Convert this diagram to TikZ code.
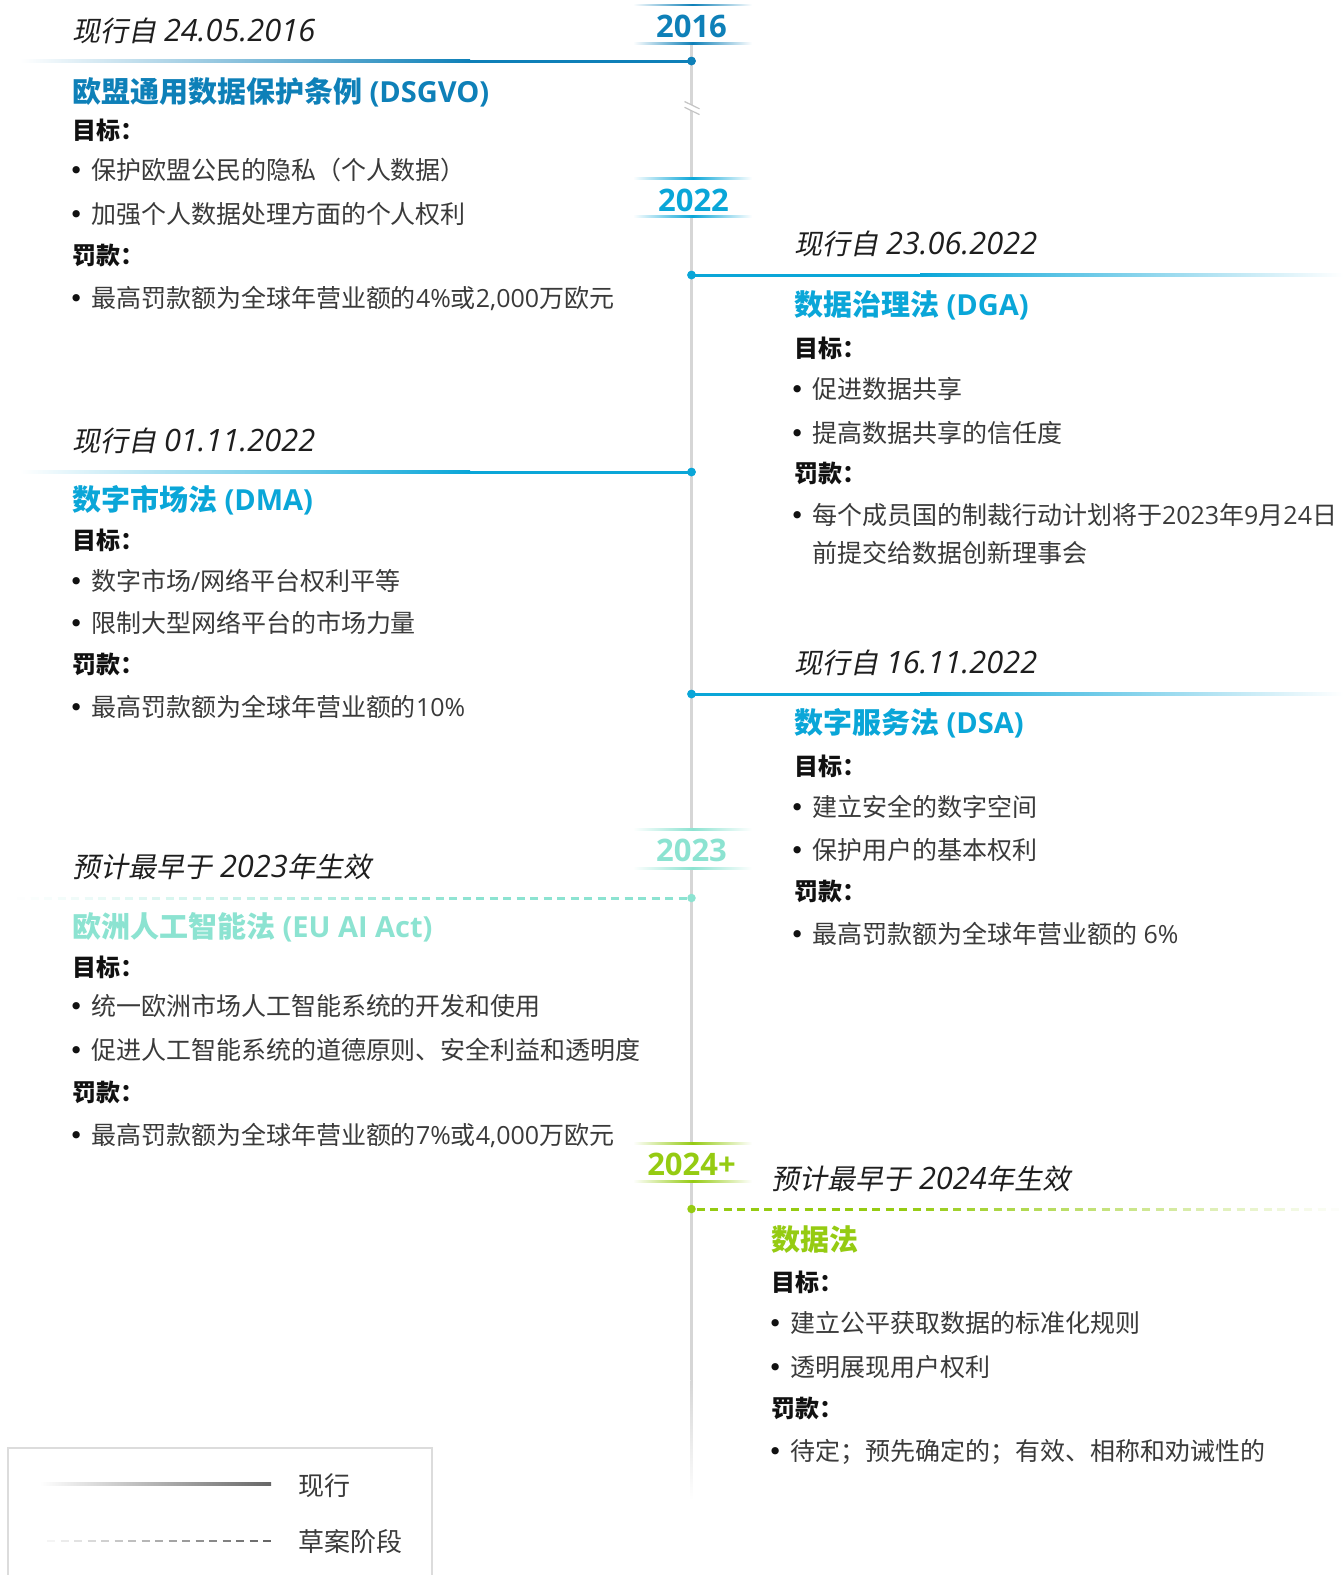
\documentclass[tikz,border=0pt]{standalone}
\usepackage{fontspec}
\setmainfont{Open Sans}[ItalicFeatures={Scale=1.1}]
\newfontfamily\cjkfam{Noto Sans CJK SC}[ItalicFont={Noto Sans CJK SC},ItalicFeatures={FakeSlant=0.2}]
\newfontfamily\bulfam{DejaVu Sans}
\XeTeXinterchartokenstate=1
\newXeTeXintercharclass\cjkcls
\newcount\cjkc
\def\cjkrange#1#2{\cjkc=#1\relax
  \loop\XeTeXcharclass\cjkc=\cjkcls\relax
  \ifnum\cjkc<#2\relax\advance\cjkc by 1\relax\repeat}
\cjkrange{"3000}{"303F}
\cjkrange{"4E00}{"9FFF}
\cjkrange{"FF00}{"FFEF}
\XeTeXinterchartoks 0 \cjkcls = {\cjkfam}
\XeTeXinterchartoks 4095 \cjkcls = {\cjkfam}
\XeTeXinterchartoks \cjkcls 0 = {\rmfamily}
\XeTeXinterchartoks \cjkcls 4095 = {\rmfamily}
\definecolor{cDS}{HTML}{0E80B8}
\definecolor{cBlue}{HTML}{0AA6D8}
\definecolor{cMint}{HTML}{8CE3D1}
\definecolor{cGreen}{HTML}{95CB12}
\definecolor{cVert}{HTML}{D6D6D6}
\definecolor{cBreak}{HTML}{C4C4C4}
\definecolor{cBody}{HTML}{3A3A3A}
\definecolor{cHead}{HTML}{111111}
\definecolor{cDate}{HTML}{1E1E1E}
\definecolor{cLeg}{HTML}{666666}
\definecolor{cLegBox}{HTML}{DCDCDC}
\newcommand\bul{\llap{{\bulfam\color{cHead}•}\hspace{7.5pt}}}
\begin{document}
\begin{tikzpicture}[x=1pt,y=-1pt,
  txt/.style={anchor=base west,inner sep=0pt,outer sep=0pt},
  datetxt/.style={txt,font=\fontsize{28}{30}\selectfont\itshape,text=cDate},
  titletxt/.style={txt,font=\fontsize{29}{32}\selectfont\bfseries},
  headtxt/.style={txt,font=\fontsize{24}{28}\selectfont\bfseries,text=cHead},
  bodytxt/.style={txt,font=\fontsize{25}{30}\selectfont,text=cBody},
  legtxt/.style={txt,font=\fontsize{26}{30}\selectfont,text=cBody},
  yeartxt/.style={anchor=base,inner sep=0pt,outer sep=0pt,font=\fontsize{31}{34}\selectfont\bfseries},
  tdot/.style={circle,inner sep=0pt,minimum size=8.5pt},
  hline/.style={line width=3pt},
  vline/.style={cVert,line width=2.5pt}]
\useasboundingbox (0,0) rectangle (1343,1575);
\fill[white] (0,0) rectangle (1343,1575);

% ---------- vertical timeline ----------
\coordinate (vTop) at (691.5,43.5);
\coordinate (vFade) at (691.5,1380);
\draw[vline] (vTop) -- (vFade);
\shade[top color=cVert,bottom color=white] (690.25,1380) rectangle (692.75,1500);
% break mark
\fill[white] (684,101) -- (700,109) -- (700,115) -- (684,107) -- cycle;
\draw[cBreak,line width=1.2pt] (684.5,101.5) -- (699.5,108.8);
\draw[cBreak,line width=1.2pt] (684.5,107.3) -- (699.5,114.6);

% ---------- year labels ----------
\foreach \yt/\yb/\col in {5/43.3/cDS, 178.3/216.7/cBlue, 829.3/868.3/cMint, 1143.3/1181.7/cGreen}{
  \fill[white] (636,\yt) rectangle (748,\yb);
  \shade[left color=white,right color=white,middle color=\col] (633,\yt-0.8) rectangle (752,\yt+0.8);
  \shade[left color=white,right color=white,middle color=\col] (633,\yb-0.8) rectangle (752,\yb+0.8);
}
\node[yeartxt,text=cDS] (y2016) at (691.5,37.3) {2016};
\node[yeartxt,text=cBlue] (y2022) at (693.5,211.7) {2022};
\node[yeartxt,text=cMint] (y2023) at (691.5,861.7) {2023};
\node[yeartxt,text=cGreen] (y2024) at (691.5,1175) {2024+};

% ---------- horizontal markers ----------
% DSGVO (left, solid)
\coordinate (dsM) at (470,61);
\shade[left color=white,right color=cDS] (20,59.5) rectangle (470,62.5);
\node[tdot,fill=cDS] (dsDot) at (691.5,61) {};
\draw[hline,cDS] (dsM) -- (dsDot.center);
\node[tdot,fill=cDS] at (dsDot) {};
% DGA (right, solid)
\coordinate (dgaM) at (920,275);
\shade[left color=cBlue,right color=white] (920,273.5) rectangle (1343,276.5);
\node[tdot,fill=cBlue] (dgaDot) at (691.5,275) {};
\draw[hline,cBlue] (dgaDot.center) -- (dgaM);
\node[tdot,fill=cBlue] at (dgaDot) {};
% DMA (left, solid)
\coordinate (dmaM) at (470,472);
\shade[left color=white,right color=cBlue] (20,470.5) rectangle (470,473.5);
\node[tdot,fill=cBlue] (dmaDot) at (691.5,472) {};
\draw[hline,cBlue] (dmaM) -- (dmaDot.center);
\node[tdot,fill=cBlue] at (dmaDot) {};
% DSA (right, solid)
\coordinate (dsaM) at (920,694);
\shade[left color=cBlue,right color=white] (920,692.5) rectangle (1343,695.5);
\node[tdot,fill=cBlue] (dsaDot) at (691.5,694) {};
\draw[hline,cBlue] (dsaDot.center) -- (dsaM);
\node[tdot,fill=cBlue] at (dsaDot) {};
% EU AI Act (left, dashed)
\foreach \i in {0,...,50}{
  \pgfmathsetmacro\xb{691.5-5-\i*13.5}
  \pgfmathsetmacro\xa{\xb-8}
  \pgfmathsetmacro\pc{max(0,min(100,(\xa-10)/460*100))}
  \draw[cMint!\pc!white,line width=3pt] (\xa,898) -- (\xb,898);
}
\node[tdot,fill=cMint] (aiDot) at (691.5,898) {};
% Data Act (right, dashed)
\foreach \i in {0,...,48}{
  \pgfmathsetmacro\xa{691.5+5+\i*13.5}
  \pgfmathsetmacro\xb{\xa+8}
  \pgfmathsetmacro\pc{max(0,min(100,(1343-\xa)/440*100))}
  \draw[cGreen!\pc!white,line width=3pt] (\xa,1209) -- (\xb,1209);
}
\node[tdot,fill=cGreen] (daDot) at (691.5,1209) {};

% ---------- DSGVO ----------
\node[datetxt] (dsDate) at (72,41) {现行自 24.05.2016};
\node[titletxt,text=cDS] (dsTitle) at (72,102) {欧盟通用数据保护条例 (DSGVO)};
\node[headtxt] (dsGoal) at (72,139) {目标：};
\node[bodytxt] (dsG1) at (91,179) {\bul 保护欧盟公民的隐私（个人数据）};
\node[bodytxt] (dsG2) at (91,223) {\bul 加强个人数据处理方面的个人权利};
\node[headtxt] (dsFine) at (72,264) {罚款：};
\node[bodytxt] (dsF1) at (91,307) {\bul 最高罚款额为全球年营业额的4\%或2,000万欧元};

% ---------- DGA ----------
\node[datetxt] (dgaDate) at (794,254) {现行自 23.06.2022};
\node[titletxt,text=cBlue] (dgaTitle) at (794,315) {数据治理法 (DGA)};
\node[headtxt] (dgaGoal) at (794,357) {目标：};
\node[bodytxt] (dgaG1) at (812,398) {\bul 促进数据共享};
\node[bodytxt] (dgaG2) at (812,442) {\bul 提高数据共享的信任度};
\node[headtxt] (dgaFine) at (794,482) {罚款：};
\node[bodytxt] (dgaF1) at (812,524) {\bul 每个成员国的制裁行动计划将于2023年9月24日};
\node[bodytxt] (dgaF1b) at (812,562) {前提交给数据创新理事会};

% ---------- DMA ----------
\node[datetxt] (dmaDate) at (72,451) {现行自 01.11.2022};
\node[titletxt,text=cBlue] (dmaTitle) at (72,510) {数字市场法 (DMA)};
\node[headtxt] (dmaGoal) at (72,549) {目标：};
\node[bodytxt] (dmaG1) at (91,590) {\bul 数字市场/网络平台权利平等};
\node[bodytxt] (dmaG2) at (91,632) {\bul 限制大型网络平台的市场力量};
\node[headtxt] (dmaFine) at (72,673) {罚款：};
\node[bodytxt] (dmaF1) at (91,716) {\bul 最高罚款额为全球年营业额的10\%};

% ---------- DSA ----------
\node[datetxt] (dsaDate) at (794,673) {现行自 16.11.2022};
\node[titletxt,text=cBlue] (dsaTitle) at (794,733) {数字服务法 (DSA)};
\node[headtxt] (dsaGoal) at (794,775) {目标：};
\node[bodytxt] (dsaG1) at (812,816) {\bul 建立安全的数字空间};
\node[bodytxt] (dsaG2) at (812,859) {\bul 保护用户的基本权利};
\node[headtxt] (dsaFine) at (794,900) {罚款：};
\node[bodytxt] (dsaF1) at (812,943) {\bul 最高罚款额为全球年营业额的 6\%};

% ---------- EU AI Act ----------
\node[datetxt] (aiDate) at (72,877) {预计最早于 2023年生效};
\node[titletxt,text=cMint] (aiTitle) at (72,937) {欧洲人工智能法 (EU AI Act)};
\node[headtxt] (aiGoal) at (72,976) {目标：};
\node[bodytxt] (aiG1) at (91,1015) {\bul 统一欧洲市场人工智能系统的开发和使用};
\node[bodytxt] (aiG2) at (91,1059) {\bul 促进人工智能系统的道德原则、安全利益和透明度};
\node[headtxt] (aiFine) at (72,1101) {罚款：};
\node[bodytxt] (aiF1) at (91,1144) {\bul 最高罚款额为全球年营业额的7\%或4,000万欧元};

% ---------- Data Act ----------
\node[datetxt] (daDate) at (771,1189) {预计最早于 2024年生效};
\node[titletxt,text=cGreen] (daTitle) at (771,1250) {数据法};
\node[headtxt] (daGoal) at (771,1291) {目标：};
\node[bodytxt] (daG1) at (790,1332) {\bul 建立公平获取数据的标准化规则};
\node[bodytxt] (daG2) at (790,1376) {\bul 透明展现用户权利};
\node[headtxt] (daFine) at (771,1417) {罚款：};
\node[bodytxt] (daF1) at (790,1460) {\bul 待定；预先确定的；有效、相称和劝诫性的};

% ---------- legend ----------
\draw[cLegBox,line width=2pt] (8,1590) -- (8,1448) -- (432,1448) -- (432,1590);
\coordinate (legA) at (40,1484);
\shade[left color=white,right color=cLeg] (40,1482.7) rectangle (271,1485.5);
\node[legtxt] (legCur) at (298,1495) {现行};
\foreach \i in {0,...,16}{
  \pgfmathsetmacro\xa{263-\i*13.5}
  \pgfmathsetmacro\xb{\xa+8}
  \pgfmathsetmacro\pc{max(0,min(100,(\xa-30)/233*100))}
  \draw[cLeg!\pc!white,line width=2.8pt] (\xa,1541) -- (\xb,1541);
}
\node[legtxt] (legDraft) at (298,1551) {草案阶段};
\end{tikzpicture}
\end{document}
